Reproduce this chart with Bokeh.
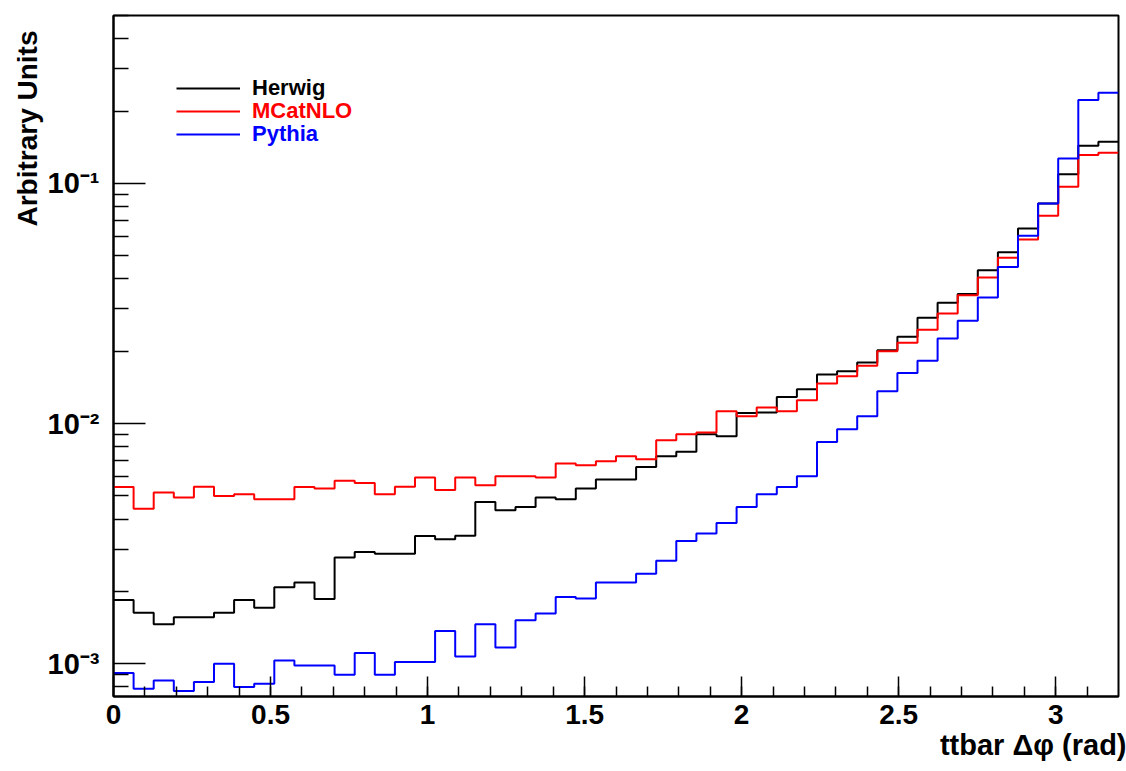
import numpy as np
from bokeh.plotting import figure
from bokeh.models import Range1d, FixedTicker, Legend, LegendItem, Title
from bokeh.embed import file_html
from bokeh.resources import INLINE

# ttbar delta-phi distributions, 50 bins between 0 and 3.2 rad
n_bins = 50
x_lo, x_hi = 0.0, 3.2

herwig = [1.84e-3, 1.63e-3, 1.46e-3, 1.56e-3, 1.56e-3, 1.63e-3, 1.84e-3, 1.71e-3, 2.08e-3, 2.18e-3,
          1.86e-3, 2.77e-3, 2.92e-3, 2.87e-3, 2.87e-3, 3.40e-3, 3.30e-3, 3.41e-3, 4.71e-3, 4.35e-3,
          4.49e-3, 4.92e-3, 4.84e-3, 5.36e-3, 5.84e-3, 5.84e-3, 6.59e-3, 7.31e-3, 7.62e-3, 9.02e-3,
          8.85e-3, 1.107e-2, 1.111e-2, 1.29e-2, 1.39e-2, 1.60e-2, 1.65e-2, 1.795e-2, 2.02e-2, 2.30e-2,
          2.76e-2, 3.18e-2, 3.46e-2, 4.35e-2, 5.16e-2, 6.49e-2, 8.25e-2, 0.109, 0.1435, 0.149]

mcatnlo = [5.44e-3, 4.42e-3, 5.16e-3, 4.92e-3, 5.46e-3, 4.99e-3, 5.07e-3, 4.84e-3, 4.84e-3, 5.44e-3,
           5.36e-3, 5.77e-3, 5.65e-3, 5.07e-3, 5.46e-3, 5.96e-3, 5.29e-3, 5.96e-3, 5.53e-3, 6.03e-3,
           6.03e-3, 5.96e-3, 6.81e-3, 6.70e-3, 6.97e-3, 7.31e-3, 7.10e-3, 8.52e-3, 9.02e-3, 9.17e-3,
           1.125e-2, 1.072e-2, 1.166e-2, 1.125e-2, 1.25e-2, 1.468e-2, 1.574e-2, 1.738e-2, 2.0e-2, 2.17e-2,
           2.46e-2, 2.87e-2, 3.42e-2, 4.06e-2, 4.90e-2, 5.84e-2, 7.33e-2, 9.68e-2, 0.1312, 0.1341]

pythia = [9.14e-4, 7.87e-4, 8.52e-4, 7.69e-4, 8.38e-4, 1.0e-3, 7.99e-4, 8.25e-4, 1.03e-3, 9.82e-4,
          9.82e-4, 9.0e-4, 1.107e-3, 9.0e-4, 1.016e-3, 1.016e-3, 1.367e-3, 1.072e-3, 1.46e-3, 1.167e-3,
          1.515e-3, 1.616e-3, 1.894e-3, 1.866e-3, 2.18e-3, 2.18e-3, 2.37e-3, 2.68e-3, 3.24e-3, 3.48e-3,
          3.85e-3, 4.49e-3, 5.07e-3, 5.44e-3, 6.03e-3, 8.38e-3, 9.46e-3, 1.072e-2, 1.363e-2, 1.625e-2,
          1.824e-2, 2.26e-2, 2.68e-2, 3.35e-2, 4.49e-2, 6.05e-2, 8.25e-2, 0.127, 0.2225, 0.2385]

series_names = ["Herwig", "MCatNLO", "Pythia"]
series_colors = ["black", "#ff0000", "#0000ff"]

x_major = [0.0, 0.5, 1.0, 1.5, 2.0, 2.5, 3.0]
x_major_labels = ["0", "0.5", "1", "1.5", "2", "2.5", "3"]
x_minor = [round(0.1 * i, 1) for i in range(1, 32)]

y_major = [1e-3, 1e-2, 1e-1]
y_major_labels = ["10\u207b\u00b3", "10\u207b\u00b2", "10\u207b\u00b9"]
y_minor = [m * 10.0 ** e for e in (-4, -3, -2, -1) for m in range(2, 10)]

x_title = "ttbar \u0394\u03c6 (rad)"
y_title = "Arbitrary Units"

FONT = "Liberation Sans"

p = figure(width=1126, height=771, y_axis_type="log",
           x_range=Range1d(x_lo, x_hi), y_range=Range1d(7.3e-4, 0.5),
           output_backend="svg", toolbar_location=None,
           min_border_left=113, min_border_right=8,
           min_border_top=15, min_border_bottom=75)

p.background_fill_color = "white"
p.border_fill_color = "white"
p.outline_line_color = "black"
p.outline_line_width = 2
p.xgrid.visible = False
p.ygrid.visible = False

edges = np.linspace(x_lo, x_hi, n_bins + 1)
renderers = []
for vals, color in zip([herwig, mcatnlo, pythia], series_colors):
    y = list(vals) + [vals[-1]]
    r = p.step(x=edges, y=y, mode="after", line_color=color, line_width=2)
    renderers.append(r)

# x axis
xa = p.xaxis[0]
xa.ticker = FixedTicker(ticks=x_major, minor_ticks=x_minor)
xa.major_label_overrides = dict(zip(x_major, x_major_labels))
xa.major_tick_in = 20
xa.major_tick_out = 0
xa.minor_tick_in = 10
xa.minor_tick_out = 0
xa.major_tick_line_width = 1.5
xa.minor_tick_line_width = 1.5
xa.axis_line_width = 2
xa.major_label_standoff = 8
xa.major_label_text_font = FONT
xa.major_label_text_font_style = "bold"
xa.major_label_text_font_size = "28px"
xa.major_label_text_color = "black"

# y axis
ya = p.yaxis[0]
ya.ticker = FixedTicker(ticks=y_major, minor_ticks=y_minor)
ya.major_label_overrides = dict(zip(y_major, y_major_labels))
ya.major_tick_in = 32
ya.major_tick_out = 0
ya.minor_tick_in = 15
ya.minor_tick_out = 0
ya.major_tick_line_width = 1.5
ya.minor_tick_line_width = 1.5
ya.axis_line_width = 2
ya.major_label_standoff = 14
ya.major_label_text_font = FONT
ya.major_label_text_font_style = "bold"
ya.major_label_text_font_size = "29px"
ya.major_label_text_color = "black"

# axis titles, flush with the far end of each axis
p.add_layout(Title(text=x_title, align="right", standoff=0, offset=-8,
                   text_font=FONT, text_font_style="bold",
                   text_font_size="29px", text_color="black"), "below")
p.add_layout(Title(text=y_title, align="right", standoff=3, offset=15,
                   text_font=FONT, text_font_style="bold",
                   text_font_size="28px", text_color="black"), "left")

# one legend per series so each label takes the series colour
legend_tops = [595, 572, 549]
for name, color, r, top in zip(series_names, series_colors, renderers, legend_tops):
    leg = Legend(items=[LegendItem(label=name, renderers=[r])],
                 location=(63, top), margin=0, padding=0,
                 glyph_width=64, glyph_height=20, label_height=20,
                 label_standoff=12, spacing=0,
                 border_line_alpha=0, background_fill_alpha=0,
                 label_text_font=FONT, label_text_font_style="bold",
                 label_text_font_size="22px", label_text_color=color)
    p.add_layout(leg)

open("out.html", "w").write(file_html(p, INLINE))
